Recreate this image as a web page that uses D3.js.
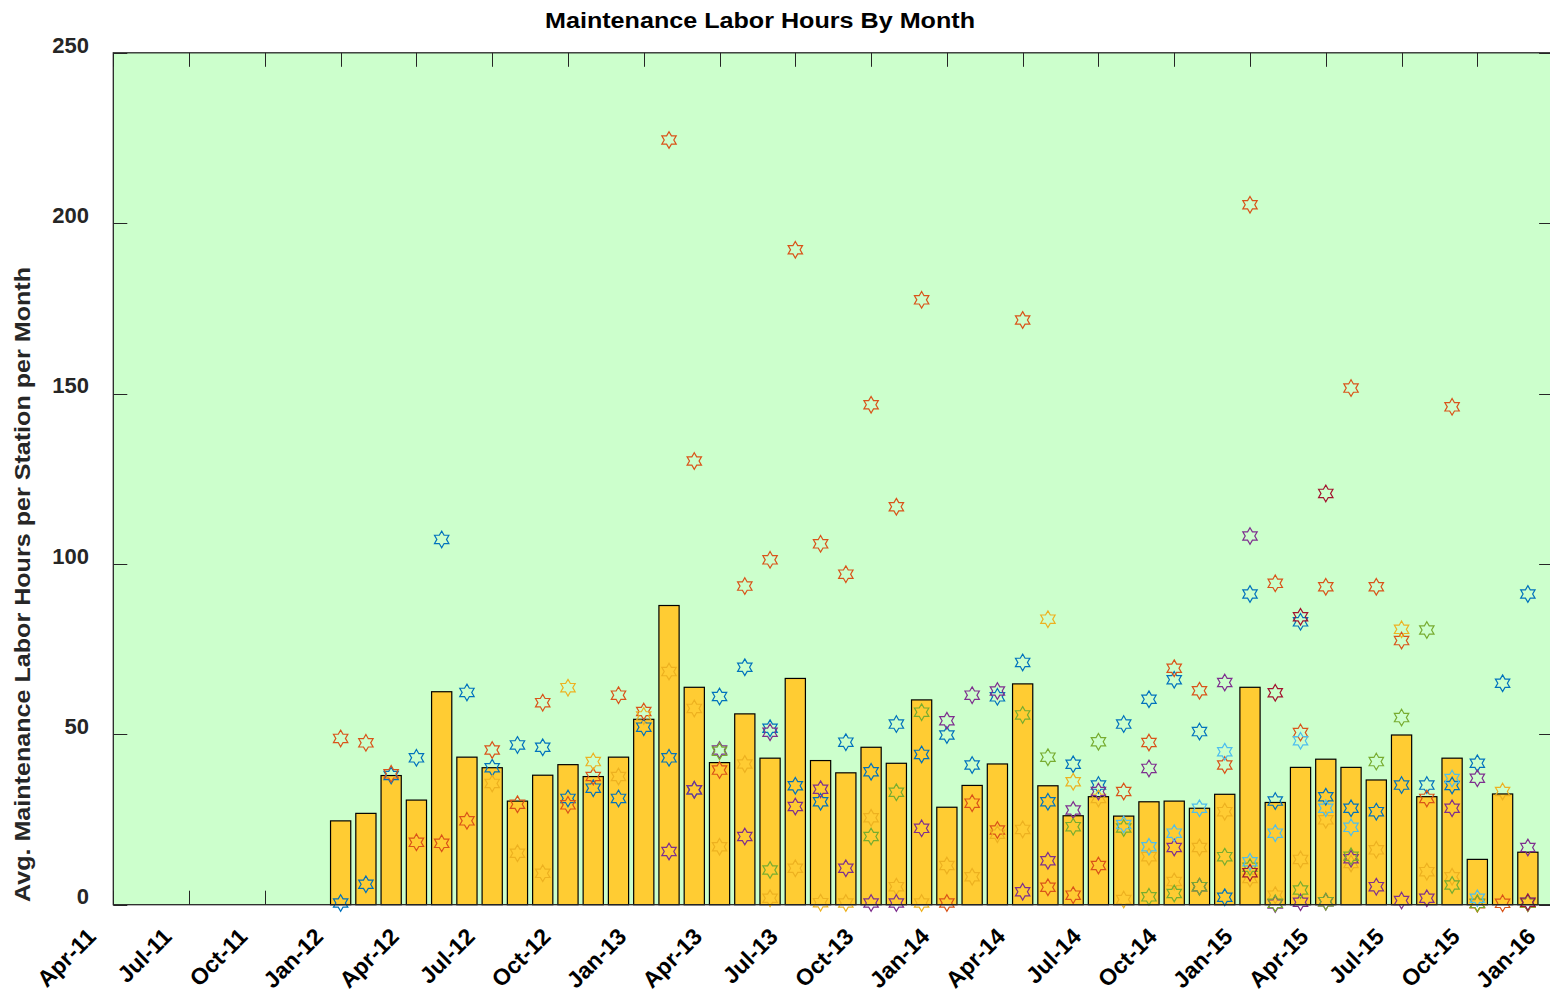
<!DOCTYPE html>
<html>
<head>
<meta charset="utf-8">
<script src="https://cdn.jsdelivr.net/npm/d3@7"></script>
<style>
  body { margin: 0; background: #fff; }
  text { font-family: "Liberation Sans", Arial, Helvetica, sans-serif; font-weight: bold; }
</style>
</head>
<body>
<div id="chart"></div>
<script>
// --- data ---
const tickLabels = ["Apr-11", "Jul-11", "Oct-11", "Jan-12", "Apr-12", "Jul-12", "Oct-12", "Jan-13",
    "Apr-13", "Jul-13", "Oct-13", "Jan-14", "Apr-14", "Jul-14", "Oct-14", "Jan-15",
    "Apr-15", "Jul-15", "Oct-15", "Jan-16"];

const months = ["Jan-12", "Feb-12", "Mar-12", "Apr-12", "May-12", "Jun-12", "Jul-12", "Aug-12",
    "Sep-12", "Oct-12", "Nov-12", "Dec-12", "Jan-13", "Feb-13", "Mar-13", "Apr-13",
    "May-13", "Jun-13", "Jul-13", "Aug-13", "Sep-13", "Oct-13", "Nov-13", "Dec-13",
    "Jan-14", "Feb-14", "Mar-14", "Apr-14", "May-14", "Jun-14", "Jul-14", "Aug-14",
    "Sep-14", "Oct-14", "Nov-14", "Dec-14", "Jan-15", "Feb-15", "Mar-15", "Apr-15",
    "May-15", "Jun-15", "Jul-15", "Aug-15", "Sep-15", "Oct-15", "Nov-15", "Dec-15"];

// monthly average (bars)
const avgHours = [24.6, 26.8, 37.9, 30.7, 62.5, 43.3, 40.2, 30.4, 38.0, 41.1, 37.6, 43.3,
    54.4, 87.8, 63.8, 41.7, 56.0, 43.0, 66.4, 42.3, 38.7, 46.2, 41.5, 60.1,
    28.6, 35.0, 41.3, 64.8, 34.9, 26.1, 31.7, 26.0, 30.2, 30.4, 28.3, 32.4,
    63.8, 30.0, 40.3, 42.7, 40.3, 36.6, 49.8, 31.7, 43.0, 13.3, 32.5, 15.4];

// per-station values (stars), null = no data
const station1 = [0.5, 6.0, 37.9, 43.1, 107.2, 62.3, 40.2, 46.9, 46.2, 31.2, 34.2, 31.2,
    52.1, 43.1, 33.7, 61.1, 69.7, 51.8, 34.9, 30.2, 47.7, 39.0, 53.0, 44.1,
    49.8, 41.0, 61.0, 71.1, 30.2, 41.2, 35.1, 53.0, 60.3, 66.0, 50.8, 2.2,
    91.2, 30.4, 83.0, 31.7, 28.3, 27.3, 35.1, 35.1, 35.0, 41.5, 65.0, 91.2];
const station2 = [48.8, 47.5, 38.4, 18.3, 18.0, 24.6, 45.4, 29.5, 59.3, 29.3, 37.6, 61.5,
    56.7, 224.4, 130.2, 39.5, 93.5, 101.2, 192.2, 105.9, 97.0, 146.7, 116.8, 177.5,
    0.5, 29.8, 21.9, 171.6, 5.1, 2.8, 11.5, 33.2, 47.6, 69.4, 62.8, 41.0,
    205.4, 94.3, 50.5, 93.3, 151.6, 93.3, 77.5, 31.2, 146.1, 0.3, 0.4, 0.5];
const station3 = [null, null, null, null, null, null, 35.6, 15.1, 9.2, 63.7, 42.0, 37.6,
    55.4, 68.4, 57.6, 17.0, 41.3, 1.9, 10.7, 0.6, 0.5, 25.5, 5.3, 0.5,
    11.5, 8.2, 20.7, 22.1, 83.8, 36.1, 31.2, 1.5, 14.1, 6.8, 16.8, 27.3,
    7.7, 2.8, 13.3, 24.9, 12.1, 16.1, 80.8, 9.7, 8.2, 0.4, 33.2, 0.5];
const station4 = [null, null, null, null, null, null, null, null, null, null, null, null,
    null, 15.6, 33.7, 45.4, 20.0, 50.6, 28.8, 33.9, 10.7, 0.5, 0.5, 22.4,
    54.0, 61.5, 62.7, 3.8, 12.9, 27.8, 33.2, null, 40.0, 16.8, 5.3, 65.2,
    108.2, 0.2, 0.7, 0.9, 13.5, 5.3, 1.2, 1.9, 28.3, 37.1, null, 16.8];
const station5 = [null, null, null, null, null, null, null, null, null, null, null, null,
    null, null, null, 45.0, null, 10.2, null, null, null, 20.0, 33.0, 56.5,
    null, null, null, 55.7, 43.3, 22.9, 47.8, 22.5, 2.3, 3.3, 5.3, 14.1,
    11.0, 0.4, 4.3, 0.9, 14.2, 42.0, 54.9, 80.6, 5.8, 0.4, null, 0.5];
const station6 = [null, null, null, null, null, null, null, null, null, null, null, null,
    null, null, null, null, null, null, null, null, null, null, null, null,
    null, null, null, null, null, null, null, 23.5, 17.0, 21.0, 28.3, 44.9,
    12.6, 21.0, 48.1, 28.3, 22.7, null, null, null, 37.0, 1.9, null, 0.7];
const station7 = [null, null, null, null, null, null, null, null, null, null, null, null,
    null, null, null, null, null, null, null, null, null, null, null, null,
    null, null, null, null, null, null, null, null, null, null, null, null,
    9.4, 62.2, 84.5, 120.7, null, null, null, null, null, null, null, 0.7];

const stations = [station1, station2, station3, station4, station5, station6, station7];
const stationColors = ["#0072BD", "#D95319", "#EDB120", "#7E2F8E", "#77AC30", "#4DBEEE", "#A2142F"];

// --- layout ---
const W = 1550, H = 993;
const plotLeft = 113.3, plotTop = 52.8, plotBottom = 904.7;
const monthW = 25.26;

const parseMonth = d3.timeParse("%b-%y");
const startMonth = parseMonth(tickLabels[0]);
const mIdx = s => d3.timeMonth.count(startMonth, parseMonth(s));

const x = d3.scaleLinear().domain([0, 57]).range([plotLeft, plotLeft + 57 * monthW]);
const y = d3.scaleLinear().domain([0, 250]).range([plotBottom, plotTop]);
const plotRight = x(57);

const svg = d3.select("#chart")
    .append("svg")
    .attr("width", W)
    .attr("height", H);

// plot background
svg.append("rect")
    .attr("x", plotLeft)
    .attr("y", plotTop)
    .attr("width", plotRight - plotLeft)
    .attr("height", plotBottom - plotTop)
    .attr("fill", "#CCFFCC");

// tick marks (inside, on all four sides)
const tickLen = 14;
const ticks = svg.append("g").attr("stroke", "#262626").attr("stroke-width", 1);
tickLabels.forEach(t => {
    const xp = Math.round(x(mIdx(t))) + 0.5;
    ticks.append("line").attr("x1", xp).attr("x2", xp).attr("y1", plotBottom).attr("y2", plotBottom - tickLen);
    ticks.append("line").attr("x1", xp).attr("x2", xp).attr("y1", plotTop).attr("y2", plotTop + tickLen);
});
const yTicks = [0, 50, 100, 150, 200, 250];
yTicks.forEach(v => {
    const yp = Math.round(y(v)) + 0.5;
    ticks.append("line").attr("x1", plotLeft).attr("x2", plotLeft + tickLen).attr("y1", yp).attr("y2", yp);
    ticks.append("line").attr("x1", plotRight).attr("x2", plotRight - tickLen).attr("y1", yp).attr("y2", yp);
});

// bars
const barW = monthW * 0.8;
svg.append("g")
    .selectAll("rect")
    .data(months)
    .enter()
    .append("rect")
    .attr("x", d => x(mIdx(d)) - barW / 2)
    .attr("y", (d, i) => y(avgHours[i]))
    .attr("width", barW)
    .attr("height", (d, i) => y(0) - y(avgHours[i]))
    .attr("fill", "#FFCC33")
    .attr("stroke", "#000")
    .attr("stroke-width", 1.2);

// hexagram marker
const R = 8.3, r = R / Math.sqrt(3);
const hexPts = d3.range(12).map(k => {
    const a = -Math.PI / 2 + k * Math.PI / 6;
    const rad = k % 2 === 0 ? R : r;
    return [rad * Math.cos(a), rad * Math.sin(a)];
});
const hexagram = "M" + hexPts.map(p => p[0].toFixed(2) + "," + p[1].toFixed(2)).join("L") + "Z";

stations.forEach((vals, s) => {
    svg.append("g")
        .selectAll("path")
        .data(months.map((m, i) => ({ m: m, v: vals[i] })).filter(d => d.v !== null))
        .enter()
        .append("path")
        .attr("d", hexagram)
        .attr("transform", d => `translate(${x(mIdx(d.m))},${y(d.v)})`)
        .attr("fill", "none")
        .attr("stroke", stationColors[s])
        .attr("stroke-width", 1.2);
});

// axes box
svg.append("rect")
    .attr("x", plotLeft)
    .attr("y", plotTop)
    .attr("width", plotRight - plotLeft)
    .attr("height", plotBottom - plotTop)
    .attr("fill", "none")
    .attr("stroke", "#262626")
    .attr("stroke-width", 1.3);

// y tick labels
svg.append("g")
    .selectAll("text")
    .data(yTicks)
    .enter()
    .append("text")
    .attr("x", 89)
    .attr("y", d => y(d) - 8)
    .attr("dy", "0.35em")
    .attr("text-anchor", "end")
    .attr("font-size", 22)
    .attr("fill", "#262626")
    .text(d => d);

// x tick labels, rotated
svg.append("g")
    .selectAll("text")
    .data(tickLabels)
    .enter()
    .append("text")
    .attr("transform", d => `translate(${x(mIdx(d)) - 16},938) rotate(-45)`)
    .attr("text-anchor", "end")
    .attr("font-size", 23)
    .attr("fill", "#000")
    .text(d => d);

// title
svg.append("text")
    .attr("x", 760)
    .attr("y", 28)
    .attr("text-anchor", "middle")
    .attr("font-size", 22)
    .attr("textLength", 430)
    .attr("lengthAdjust", "spacingAndGlyphs")
    .attr("fill", "#000")
    .text("Maintenance Labor Hours By Month");

// y axis label
svg.append("text")
    .attr("transform", "translate(30,584.5) rotate(-90)")
    .attr("text-anchor", "middle")
    .attr("font-size", 22)
    .attr("textLength", 635)
    .attr("lengthAdjust", "spacingAndGlyphs")
    .attr("fill", "#262626")
    .text("Avg. Maintenance Labor Hours per Station per Month");
</script>
</body>
</html>
